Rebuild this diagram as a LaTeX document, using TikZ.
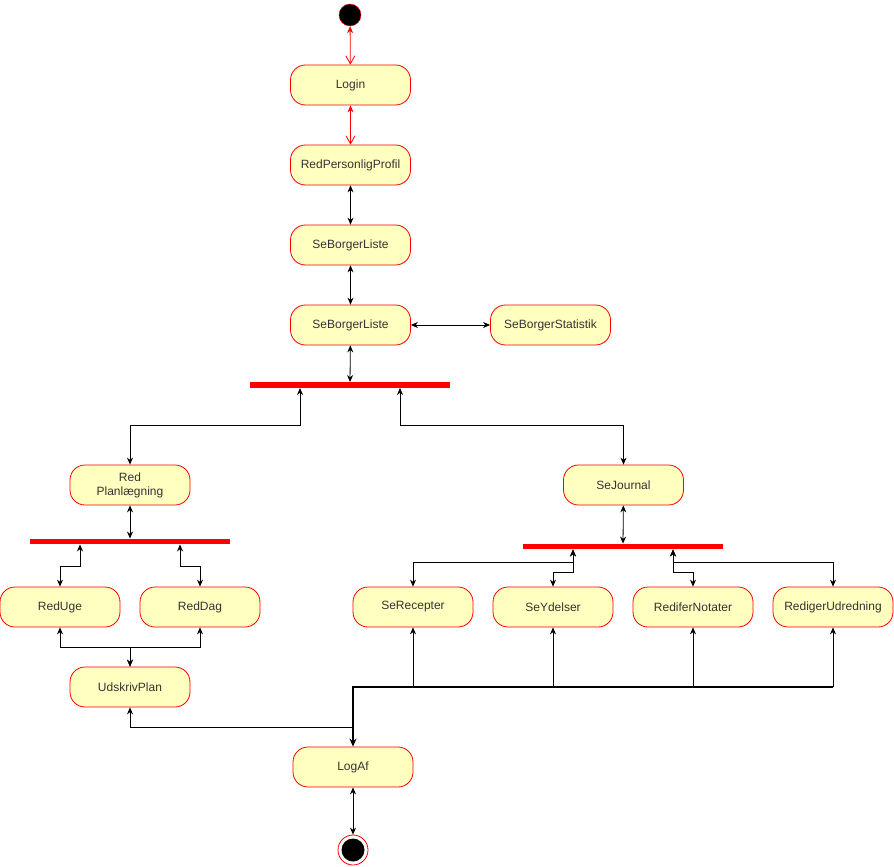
\documentclass[tikz,border=0pt]{standalone}
\usepackage{fontspec}
\setmainfont{Liberation Sans}
\usetikzlibrary{arrows.meta}
\definecolor{actfill}{HTML}{FFFFC0}
\definecolor{txt}{HTML}{333333}
\begin{document}
\begin{tikzpicture}[x=1pt,y=-1pt,
  act/.style={draw=red, fill=actfill, rounded corners=15pt, minimum width=120pt, minimum height=40pt,
    inner sep=2pt, align=center, text=txt, font=\fontsize{12}{14}\selectfont, line width=0.8pt},
  bar/.style={fill=red, inner sep=0pt, minimum width=200pt, minimum height=5.5pt},
  bi/.style={line width=0.8pt, {Stealth[length=7pt,width=6pt]}-{Stealth[length=7pt,width=6pt]}},
  redbi/.style={red, line width=0.8pt, {Stealth[length=7pt,width=6pt]}-{Straight Barb[length=8pt,width=9pt]}},
  up/.style={line width=0.8pt, -{Stealth[length=7pt,width=6pt]}}
]
\useasboundingbox (0,0) rectangle (894,867);
% start / end
\node[circle, draw=red, fill=black, minimum size=22pt, inner sep=0pt] (start) at (350,15) {};
\node[circle, draw=red, fill=white, minimum size=30pt, inner sep=0pt, line width=0.8pt] (end) at (353,850) {};
\fill (end.center) circle (11.5pt);
% activities
\node[act] (login) at (350.5,85) {Login};
\node[act] (rpp) at (350.5,165) {RedPersonligProfil};
\node[act] (sbl1) at (350.5,245) {SeBorgerListe};
\node[act] (sbl2) at (350.5,325) {SeBorgerListe};
\node[act] (stat) at (550.5,325) {SeBorgerStatistik};
\node[bar] (bar1) at (350,385) {};
\node[act] (rp) at (130,485) {Red\\Planlægning};
\node[act] (sj) at (623.5,485) {SeJournal};
\node[bar] (bar2l) at (130,541.5) {};
\node[bar] (bar2r) at (623,546.5) {};
\node[act] (ru) at (60,607) {RedUge};
\node[act] (rd) at (200,607) {RedDag};
\node[act] (udp) at (130,687) {UdskrivPlan};
\node[act] (sr) at (413,607) {SeRecepter};
\node[act] (sy) at (553,607) {SeYdelser};
\node[act] (rn) at (693,607) {RediferNotater};
\node[act] (ru2) at (833,607) {RedigerUdredning};
\node[act] (lo) at (353,767) {LogAf};
% junction coordinates
\coordinate (hub) at (353,687);
\coordinate (hubr) at (833,687);
\coordinate (j2) at (353,727);
% connectors
\draw[redbi] (start) -- (login);
\draw[redbi] (login) -- (rpp);
\draw[bi] (rpp) -- (sbl1);
\draw[bi] (sbl1) -- (sbl2);
\draw[bi] (sbl2) -- (stat);
\draw[bi] (sbl2) -- (bar1);
\draw[bi] (rp.north) |- (300,425) -- ([xshift=-50pt]bar1.south);
\draw[bi] ([xshift=50pt]bar1.south) |- (623.5,425) -- (sj.north);
\draw[bi] (rp) -- (bar2l);
\draw[bi] ([xshift=-50pt]bar2l.south) |- (60,566) -- (ru.north);
\draw[bi] ([xshift=50pt]bar2l.south) |- (200,566) -- (rd.north);
\draw[bi] (ru.south) |- (130,647) -- (udp.north);
\draw[bi] (rd.south) |- (130,647) -- (udp.north);
\draw[bi] (sj) -- (bar2r);
\draw[bi] ([xshift=-50pt]bar2r.south) |- (413,562) -- (sr.north);
\draw[bi] ([xshift=-50pt]bar2r.south) |- (553,572) -- (sy.north);
\draw[bi] ([xshift=50pt]bar2r.south) |- (693,572) -- (rn.north);
\draw[bi] ([xshift=50pt]bar2r.south) |- (833,562) -- (ru2.north);
\draw[line width=1.6pt, -{Stealth[length=8pt,width=7pt]}] (hubr) -- (hub) -- (lo.north);
\draw[up] (sr.south |- hub) -- (sr.south);
\draw[up] (sy.south |- hub) -- (sy.south);
\draw[up] (rn.south |- hub) -- (rn.south);
\draw[up] (hubr) -- (ru2.south);
\draw[up] (j2) -| (udp.south);
\draw[bi] (lo) -- (end);
\end{tikzpicture}
\end{document}
